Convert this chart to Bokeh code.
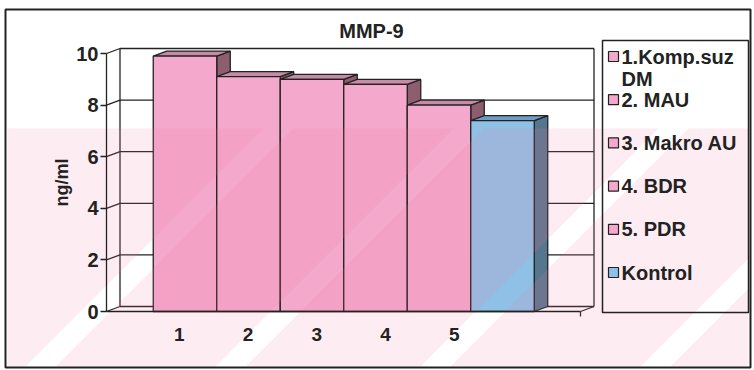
from bokeh.plotting import figure
from bokeh.models import Range1d, LinearAxis, FixedTicker
from bokeh.core.properties import value
from bokeh.embed import file_html
from bokeh.resources import INLINE

# ---------------- data ----------------
title_text = "MMP-9"
group_names = ["1.Komp.suz DM", "2. MAU", "3. Makro AU", "4. BDR", "5. PDR", "Kontrol"]
legend_lines = [["1.Komp.suz", "DM"], ["2. MAU"], ["3. Makro AU"], ["4. BDR"], ["5. PDR"], ["Kontrol"]]
values = [9.9, 9.1, 9.0, 8.8, 8.0, 7.4]
x_tick_labels = ["1", "2", "3", "4", "5"]
y_ticks = [0, 2, 4, 6, 8, 10]
y_label = "ng/ml"

# ---------------- layout / style ----------------
W, H = 754, 370
X0, BW = 184.5, 63.5      # pixel centre of first bar, pixels per bar slot
Y0, PU = 311.0, 25.8      # pixel of value 0, pixels per unit
DX, DY = 13.5 / BW, 5.0 / PU   # 3-D depth expressed in data units
AXIS_X = (106 - X0) / BW
WALL_R = (580 - X0) / BW
TICK0, TICK_STEP = -0.09, 1.083

FONT = "Liberation Sans"
INK = "#222222"
PINK = dict(front="#f4a8cb", top="#c68ba6", side="#8e5e70")
BLUE = dict(front="#8fc0e6", top="#6f9cc2", side="#55768f")
pal = [PINK] * (len(values) - 1) + [BLUE]

p = figure(width=W, height=H, output_backend="svg", toolbar_location=None,
           x_axis_type=None, y_axis_type=None,
           x_range=Range1d(-X0 / BW, (W - X0) / BW),
           y_range=Range1d((Y0 - H) / PU, Y0 / PU),
           min_border=0, outline_line_color=None,
           background_fill_color="white", border_fill_color="white")
p.extra_x_ranges = {"px": Range1d(0, W)}
p.extra_y_ranges = {"px": Range1d(H, 0)}
PX = dict(x_range_name="px", y_range_name="px")

# ---------------- walls ----------------
wx0, wx1 = [], []
wy0, wy1 = [], []
for v in y_ticks:
    wx0.append(AXIS_X); wy0.append(v); wx1.append(AXIS_X + DX); wy1.append(v + DY)
    wx0.append(AXIS_X + DX); wy0.append(v + DY); wx1.append(WALL_R + DX); wy1.append(v + DY)
for xx in (AXIS_X + DX, WALL_R + DX):
    wx0.append(xx); wy0.append(DY); wx1.append(xx); wy1.append(max(y_ticks) + DY)
wx0.append(WALL_R); wy0.append(0); wx1.append(WALL_R + DX); wy1.append(DY)
wx0.append(WALL_R); wy0.append(0); wx1.append(WALL_R); wy1.append(-5 / PU)
p.segment(wx0, wy0, wx1, wy1, line_color=INK, line_width=1.3)

# ---------------- 3-D bars ----------------
n = len(values)
xs_c = list(range(n))
side_xs, side_ys, top_xs, top_ys = [], [], [], []
for i, v in enumerate(values):
    l, r = i - 0.5, i + 0.5
    side_xs.append([r, r, r + DX, r + DX]); side_ys.append([0, v, v + DY, DY])
    top_xs.append([l, r, r + DX, l + DX]); top_ys.append([v, v, v + DY, v + DY])
p.patches(side_xs, side_ys, fill_color=[c["side"] for c in pal], line_color=INK, line_width=1.3)
p.patches(top_xs, top_ys, fill_color=[c["top"] for c in pal], line_color=INK, line_width=1.3)
p.quad(left=[i - 0.5 for i in xs_c], right=[i + 0.5 for i in xs_c], bottom=0, top=values,
       fill_color=[c["front"] for c in pal], line_color=INK, line_width=1.3)

# ---------------- faint watermark band ----------------
def clip_rect(poly, x0, y0, x1, y1):
    def clip(pts, inside, inter):
        out = []
        for k in range(len(pts)):
            a, b = pts[k - 1], pts[k]
            ia, ib = inside(a), inside(b)
            if ib:
                if not ia:
                    out.append(inter(a, b))
                out.append(b)
            elif ia:
                out.append(inter(a, b))
        return out
    def ix(xc):
        return lambda a, b: (xc, a[1] + (b[1] - a[1]) * (xc - a[0]) / (b[0] - a[0]))
    def iy(yc):
        return lambda a, b: (a[0] + (b[0] - a[0]) * (yc - a[1]) / (b[1] - a[1]), yc)
    pts = poly
    pts = clip(pts, lambda q: q[0] >= x0, ix(x0))
    pts = clip(pts, lambda q: q[0] <= x1, ix(x1))
    pts = clip(pts, lambda q: q[1] >= y0, iy(y0))
    pts = clip(pts, lambda q: q[1] <= y1, iy(y1))
    return pts

BAND = (7, 128, 748, 366)
rise = BAND[3] - BAND[1]
stripes = [25, 215, 420, 640]
sw = 30
edges = [-2000] + stripes + [3000]
wm_xs, wm_ys = [], []
for k in range(len(edges) - 1):
    a = edges[k] + (sw if k > 0 else 0)
    b = edges[k + 1]
    poly = [(a, BAND[3]), (b, BAND[3]), (b + rise, BAND[1]), (a + rise, BAND[1])]
    c = clip_rect(poly, *BAND)
    if len(c) >= 3:
        wm_xs.append([q[0] for q in c]); wm_ys.append([q[1] for q in c])
p.patches(wm_xs, wm_ys, fill_color="#ee7aa2", fill_alpha=0.14, line_color=None, **PX)

# ---------------- axes ----------------
yax = LinearAxis(fixed_location=AXIS_X, bounds=(min(y_ticks), max(y_ticks)),
                 ticker=FixedTicker(ticks=y_ticks), axis_label=y_label)
yax.axis_line_color = INK
yax.axis_line_width = 1.3
yax.major_tick_line_color = INK
yax.major_tick_line_width = 1.3
yax.major_tick_in = 0
yax.major_tick_out = 6
yax.minor_tick_line_color = None
yax.major_label_text_font = FONT
yax.major_label_text_font_style = "bold"
yax.major_label_text_font_size = "20px"
yax.major_label_text_color = INK
yax.major_label_standoff = 2
yax.axis_label_text_font = FONT
yax.axis_label_text_font_style = "bold"
yax.axis_label_text_font_size = "18px"
yax.axis_label_text_color = INK
yax.axis_label_standoff = 1
p.add_layout(yax, "left")

tick_x = [round(TICK0 + TICK_STEP * i, 3) for i in range(len(x_tick_labels))]
xax = LinearAxis(fixed_location=0, bounds=(AXIS_X, WALL_R),
                 ticker=FixedTicker(ticks=tick_x),
                 major_label_overrides={t: s for t, s in zip(tick_x, x_tick_labels)})
xax.axis_line_color = INK
xax.axis_line_width = 1.3
xax.major_tick_line_color = None
xax.minor_tick_line_color = None
xax.major_tick_in = 0
xax.major_tick_out = 0
xax.major_label_text_font = FONT
xax.major_label_text_font_style = "bold"
xax.major_label_text_font_size = "19px"
xax.major_label_text_color = INK
xax.major_label_standoff = 16
p.add_layout(xax, "below")

# ---------------- title ----------------
p.text(x=[371], y=[30], text=[title_text], text_font=value(FONT), text_font_style="bold",
       text_font_size="20px", text_color=INK, text_align="center", text_baseline="middle", **PX)

# ---------------- legend ----------------
p.quad(left=[602], right=[748], top=[40], bottom=[312], fill_color=None,
       line_color=INK, line_width=1.5, **PX)
row0, row_step = 56, 43.2
ry = [row0 + row_step * k for k in range(len(legend_lines))]
p.quad(left=[608] * len(ry), right=[618] * len(ry), top=[y - 5 for y in ry], bottom=[y + 5 for y in ry],
       fill_color=[c["front"] for c in pal], line_color=INK, line_width=1.2, **PX)
lt_x, lt_y, lt_t = [], [], []
for k, lines in enumerate(legend_lines):
    for j, s in enumerate(lines):
        lt_x.append(621); lt_y.append(ry[k] + 22 * j); lt_t.append(s)
p.text(x=lt_x, y=lt_y, text=lt_t, text_font=value(FONT), text_font_style="bold",
       text_font_size="20px", text_color=INK, text_align="left", text_baseline="middle", **PX)

# ---------------- outer border ----------------
p.quad(left=[5], right=[750], top=[9], bottom=[367], fill_color=None,
       line_color=INK, line_width=2, **PX)

open("out.html", "w").write(file_html(p, INLINE))
